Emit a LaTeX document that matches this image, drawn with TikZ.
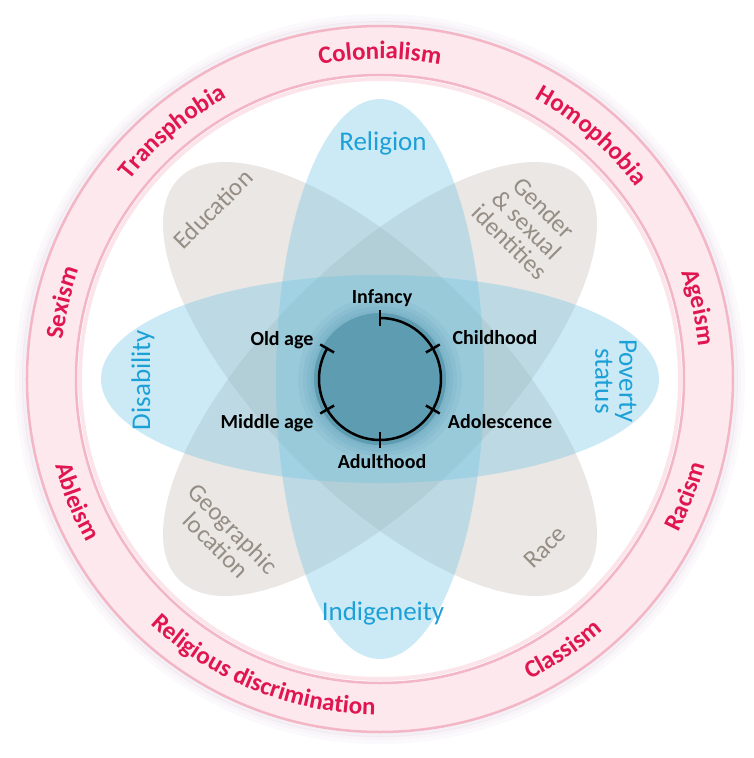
\documentclass[tikz,border=0pt]{standalone}
\usepackage{fontspec}
\setmainfont{Carlito}
\usetikzlibrary{decorations.text}
\definecolor{ringfill}{RGB}{253,233,237}
\definecolor{ringline}{RGB}{243,182,198}
\definecolor{glowc}{RGB}{236,226,236}
\definecolor{ringred}{RGB}{224,22,80}
\definecolor{bluelbl}{RGB}{28,160,215}
\definecolor{greylbl}{RGB}{150,141,132}
\definecolor{bluepet}{RGB}{105,195,228}
\definecolor{greypet}{RGB}{160,148,136}
\definecolor{discc}{RGB}{94,156,177}
\definecolor{discglow}{RGB}{70,140,165}
\newcommand\ringfont{\bfseries\fontsize{25}{25}\selectfont}
\begin{document}
\begin{tikzpicture}[x=1pt,y=1pt,
  bluepetal/.style={fill=bluepet, fill opacity=0.34},
  greypetal/.style={fill=greypet, fill opacity=0.22},
  lifelbl/.style={font=\bfseries\fontsize{20}{20}\selectfont, text=black, inner sep=0pt},
  bluelabel/.style={font=\fontsize{27}{24}\selectfont, text=bluelbl, inner sep=0pt, align=center},
  greylabel/.style={font=\fontsize{25}{24}\selectfont, text=greylbl, inner sep=0pt, align=center},
  cwtext/.style={decorate, decoration={text along path, text align=center, text color=ringred, text={|\ringfont|#1}}},
  ccwtext/.style={decorate, decoration={text along path, text align=center, text color=ringred, text={|\ringfont|#1}}}
]
\useasboundingbox (-380,-379) rectangle (373,379);
\fill[white] (-380,-379) rectangle (373,379);

% ring glow
\foreach \r/\o in {363/0.2,359/0.35,356/0.5} \draw[glowc, line width=4pt, opacity=\o] (0,0) circle[radius=\r pt];
% ring
\fill[ringfill, even odd rule] (0,0) circle[radius=354pt] circle[radius=303pt];
\draw[ringline, line width=2.5pt] (0,0) circle[radius=353pt];
\draw[ringline, line width=2.5pt] (0,0) circle[radius=304pt];
\draw[ringline!35, line width=4pt] (0,0) circle[radius=300pt];

% petals
\fill[greypetal, rotate=45] (0,0) ellipse[x radius=284pt, y radius=116pt];
\fill[greypetal, rotate=-45] (0,0) ellipse[x radius=284pt, y radius=116pt];
\fill[bluepetal] (0,0) ellipse[x radius=279pt, y radius=104pt];
\fill[bluepetal] (0,0) ellipse[x radius=104pt, y radius=280pt];

% centre disc
\foreach \r in {82,77,73,69} \fill[discglow, opacity=0.09] (0,0) circle[radius=\r pt];
\fill[discc] (0,0) circle[radius=66pt];

% life cycle
\draw[black, line width=2.5pt] (90:61pt) arc[start angle=90, end angle=-210, radius=61pt];
\foreach \a in {90,30,-30,-90,-150,150} \draw[black, line width=2.5pt] (\a:53pt) -- (\a:69pt);

\node[lifelbl] (infancy) at (2,81) {Infancy};
\node[lifelbl] (childhood) at (115,41) {Childhood};
\node[lifelbl] (adolescence) at (120,-43) {Adolescence};
\node[lifelbl] (adulthood) at (2,-83) {Adulthood};
\node[lifelbl] (middleage) at (-113,-44) {Middle age};
\node[lifelbl] (oldage) at (-98,39) {Old age};

% petal labels
\node[bluelabel] (religion) at (3,236) {Religion};
\node[bluelabel] (indigeneity) at (3,-234) {Indigeneity};
\node[bluelabel, rotate=90] (disability) at (-237,-1) {Disability};
\node[bluelabel, rotate=-90] (poverty) at (236,-2) {Poverty\\status};
\node[greylabel, rotate=45] (education) at (-167,170) {Education};
\node[greylabel, rotate=-45] (gender) at (147,154) {Gender\\\& sexual\\identities};
\node[greylabel, rotate=-45] (geographic) at (-155,-158) {Geographic\\location};
\node[greylabel, rotate=45] (race) at (165,-168) {Race};

% ring labels (clockwise, top half)
\path[cwtext=Colonialism] (125:320pt) arc[start angle=125, end angle=55, radius=320pt];
\path[cwtext=Transphobia] (165:320pt) arc[start angle=165, end angle=95, radius=320pt];
\path[cwtext=Homophobia] (84:320pt) arc[start angle=84, end angle=14, radius=320pt];
\path[cwtext=Sexism] (201.5:320pt) arc[start angle=201.5, end angle=131.5, radius=320pt];
\path[cwtext=Ageism] (47.7:320pt) arc[start angle=47.7, end angle=-22.3, radius=320pt];
% ring labels (counter-clockwise, bottom half)
\path[ccwtext=Racism] (-56:336pt) arc[start angle=-56, end angle=14, radius=336pt];
\path[ccwtext=Ableism] (167:336pt) arc[start angle=167, end angle=237, radius=336pt];
\path[ccwtext=Religious{ }discrimination] (198:336pt) arc[start angle=198, end angle=298, radius=336pt];
\path[ccwtext=Classism] (269:336pt) arc[start angle=269, end angle=339, radius=336pt];
\end{tikzpicture}
\end{document}
